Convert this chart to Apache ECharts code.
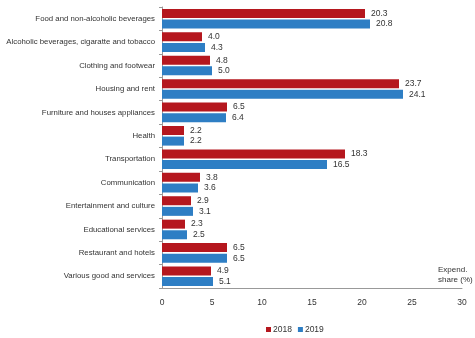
<!DOCTYPE html>
<html>
<head>
<meta charset="utf-8">
<script src="https://cdn.jsdelivr.net/npm/echarts@6/dist/echarts.min.js"></script>
<style>
  html, body { margin: 0; padding: 0; background: #fff; }
  #chart { width: 475px; height: 338px; }
</style>
</head>
<body>
<div id="chart"></div>
<script>
// Household expenditure shares by group (%)
const categories = [
  'Food and non-alcoholic beverages',
  'Alcoholic beverages, cigaratte and tobacco',
  'Clothing and footwear',
  'Housing and rent',
  'Furniture and houses appliances',
  'Health',
  'Transportation',
  'Communication',
  'Entertainment and culture',
  'Educational services',
  'Restaurant and hotels',
  'Various good and services'
];
const share2018 = [20.3, 4.0, 4.8, 23.7, 6.5, 2.2, 18.3, 3.8, 2.9, 2.3, 6.5, 4.9];
const share2019 = [20.8, 4.3, 5.0, 24.1, 6.4, 2.2, 16.5, 3.6, 3.1, 2.5, 6.5, 5.1];
const xTicks = { min: 0, max: 30, interval: 5 };

const textColor = '#333';
const fontFamily = '"Liberation Sans", Arial, sans-serif';

const chart = echarts.init(document.getElementById('chart'), null, { renderer: 'canvas' });

const barLabel = {
  show: true,
  position: 'right',
  distance: 6,
  fontSize: 8.5,
  color: textColor,
  fontFamily: fontFamily,
  formatter: p => p.value.toFixed(1)
};

chart.setOption({
  animation: false,
  textStyle: { fontFamily: fontFamily },
  grid: { left: 162, right: 13, top: 7, bottom: 50, containLabel: false, outerBoundsMode: 'none' },
  legend: {
    left: 261,
    top: 320,
    itemWidth: 5,
    itemHeight: 5,
    itemGap: 6,
    icon: 'rect',
    textStyle: { fontSize: 8.5, color: textColor, padding: [0, 0, 0, -3] },
    data: ['2018', '2019']
  },
  xAxis: {
    type: 'value',
    min: xTicks.min,
    max: xTicks.max,
    interval: xTicks.interval,
    splitLine: { show: false },
    axisLine: { show: true, lineStyle: { color: '#999', width: 1 } },
    axisTick: { show: false },
    axisLabel: { fontSize: 8.5, color: textColor, margin: 10 }
  },
  yAxis: {
    type: 'category',
    inverse: true,
    data: categories,
    axisLine: { show: true, lineStyle: { color: '#999', width: 1 } },
    axisTick: { show: true, length: 3, lineStyle: { color: '#999' } },
    axisLabel: { fontSize: 7.8, color: textColor, margin: 7 }
  },
  graphic: [{
    type: 'text',
    left: 438,
    top: 265,
    style: {
      text: 'Expend.\nshare (%)',
      fontSize: 8,
      lineHeight: 10,
      fill: textColor,
      fontFamily: fontFamily
    }
  }],
  series: [
    {
      name: '2018',
      type: 'bar',
      data: share2018,
      barWidth: 9,
      barGap: '18%',
      itemStyle: { color: '#B5171E' },
      label: barLabel
    },
    {
      name: '2019',
      type: 'bar',
      data: share2019,
      barWidth: 9,
      barGap: '18%',
      itemStyle: { color: '#2E7EC4' },
      label: barLabel
    }
  ]
});
</script>
</body>
</html>
